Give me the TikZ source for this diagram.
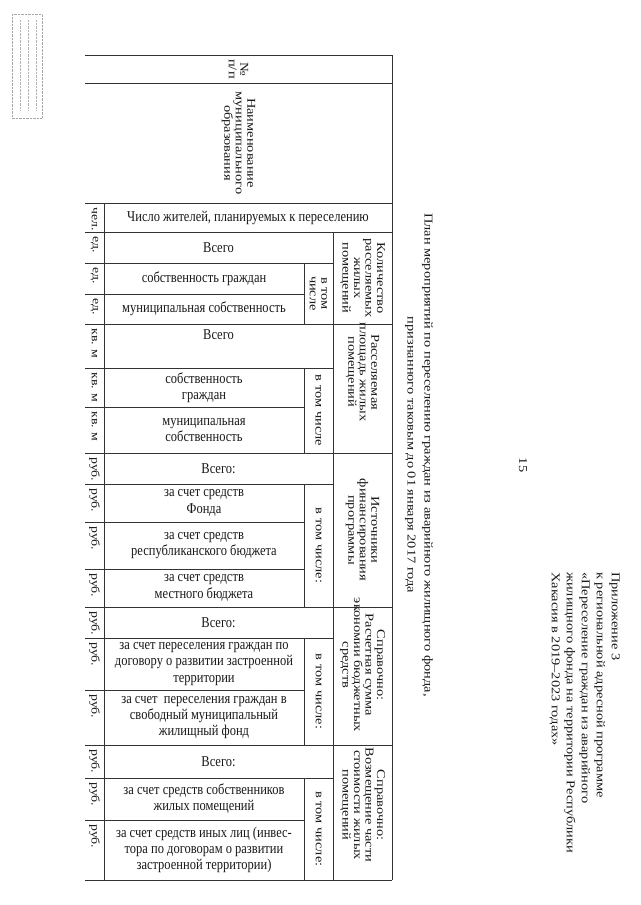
\documentclass[tikz,border=0pt]{standalone}
\usepackage{fontspec}
\setmainfont{Liberation Serif}
\usetikzlibrary{positioning}

\tikzset{
  rule/.style={draw=black!80, line width=0.7pt},
  cell/.style={align=center, inner sep=1pt, text=black!90, font=\fontsize{12.5}{13.5}\selectfont, yscale=1.2},
  vcell/.style={align=center, inner sep=1pt, text=black!90, font=\fontsize{12}{11.5}\selectfont, yscale=1.2, rotate=-90},
  unitcell/.style={inner sep=1pt, text=black!90, font=\fontsize{11.5}{12}\selectfont, yscale=1.2, rotate=-90, anchor=west},
  pagetext/.style={inner sep=0pt, text=black!90, font=\fontsize{12}{15}\selectfont, yscale=1.2, rotate=-90}
}

\begin{document}
\begin{tikzpicture}[x=1pt, y=-1pt]
    \useasboundingbox (0,0) rectangle (640,905);
    \fill[white] (0,0) rectangle (640,905);

    % stamp in the corner
    \draw[densely dotted, black!35] (12,14) rectangle (42,118);
    \foreach \xx in {20,28,36}
        \draw[densely dotted, black!30] (\xx,20) -- (\xx,110);

    % table rules
    \foreach \yy/\xx in {55/392, 83/392, 203/392, 232/392, 263/333, 294/304, 324/392,
                         368/333, 407/304, 453/392, 484/333, 522/304, 569/304, 607/392,
                         638/333, 690/304, 745/392, 778/333, 820/304, 880/392}
        \draw[rule] (85,\yy) -- (\xx,\yy);
    \draw[rule] (392,55) -- (392,880);
    \draw[rule] (104,203) -- (104,880);
    \draw[rule] (333,232) -- (333,880);
    \foreach \ya/\yb in {263/324, 368/453, 484/607, 638/745, 778/880}
        \draw[rule] (304,\ya) -- (304,\yb);

    % head of the table
    \node[vcell] (num) at (238.5,69) {№\\п/п};
    \node[vcell] (naim) at (238.5,143) {Наименование\\муниципального\\образования};
    \node[cell] (zhiteli) at (248,217.5) {Число жителей, планируемых к переселению};

    % units
    \foreach \yy/\uu [count=\i] in {203/чел., 232/ед., 263/ед., 294/ед., 324/кв. м, 368/кв. м, 407/кв. м,
                                   453/руб., 484/руб., 522/руб., 569/руб., 607/руб., 638/руб., 690/руб.,
                                   745/руб., 778/руб., 820/руб.}
        \node[unitcell] (unit\i) at (94.5,\yy+3) {\uu};

    % Количество
    \node[cell] (vsego1) at (218.5,247.5) {Всего};
    \node[cell] (sobst1) at (204,278.5) {собственность граждан};
    \node[cell] (munic1) at (204,309) {муниципальная собственность};
    \node[vcell] (vtom1) at (318.5,293.5) {в том\\числе};
    \node[vcell] (kolvo) at (362.5,278) {Количество\\расселяемых\\жилых\\помещений};

    % Расселяемая площадь
    \node[cell, anchor=north] (vsego2) at (218.5,328) {Всего};
    \node[cell] (sobst2) at (204,387.5) {собственность\\граждан};
    \node[cell] (munic2) at (204,430) {муниципальная\\собственность};
    \node[vcell] (vtom2) at (318.5,410.5) {в том числе};
    \node[vcell] (ploshad) at (362.5,372) {Расселяемая\\площадь жилых\\помещений};

    % Источники финансирования
    \node[cell] (vsego3) at (218.5,468.5) {Всего:};
    \node[cell] (fond) at (204,503) {за счет средств\\Фонда};
    \node[cell] (respub) at (204,545.5) {за счет средств\\республиканского бюджета};
    \node[cell] (mestn) at (204,588) {за счет средств\\местного бюджета};
    \node[vcell] (vtom3) at (318.5,545.5) {в том числе:};
    \node[vcell] (istochn) at (362.5,530) {Источники\\финансирования\\программы};

    % Справочно: экономия
    \node[cell] (vsego4) at (218.5,622.5) {Всего:};
    \node[cell] (dogovor) at (204,664) {за счет переселения граждан по\\договору о развитии застроенной\\территории};
    \node[cell] (svobod) at (204,717.5) {за счет~ переселения граждан в\\свободный муниципальный\\жилищный фонд};
    \node[vcell] (vtom4) at (318.5,691.5) {в том числе:};
    \node[vcell] (ekonom) at (362.5,665) {Справочно:\\Расчетная сумма\\экономии бюджетных\\средств};

    % Справочно: возмещение
    \node[cell] (vsego5) at (218.5,761.5) {Всего:};
    \node[cell] (sobstv) at (204,799) {за счет средств собственников\\жилых помещений};
    \node[cell] (inyh) at (204,850) {за счет средств иных лиц (инвес-\\тора по договорам о развитии\\застроенной территории)};
    \node[vcell] (vtom5) at (318.5,829) {в том числе:};
    \node[vcell] (vozmesh) at (362.5,805) {Справочно:\\Возмещение части\\стоимости жилых\\помещений};

    % page texts
    \node[pagetext, align=center, font=\fontsize{12}{17}\selectfont] (title) at (419,455)
        {План мероприятий по переселению граждан из аварийного жилищного фонда,\\признанного таковым до 01 января 2017 года};
    \node[pagetext] (pagenum) at (523,465) {15};
    \node[pagetext, align=left, anchor=north west] (prilozh) at (620,572)
        {Приложение 3\\к региональной адресной программе\\«Переселение граждан из аварийного\\жилищного фонда на территории Республики\\Хакасия в 2019–2023 годах»};
\end{tikzpicture}
\end{document}
